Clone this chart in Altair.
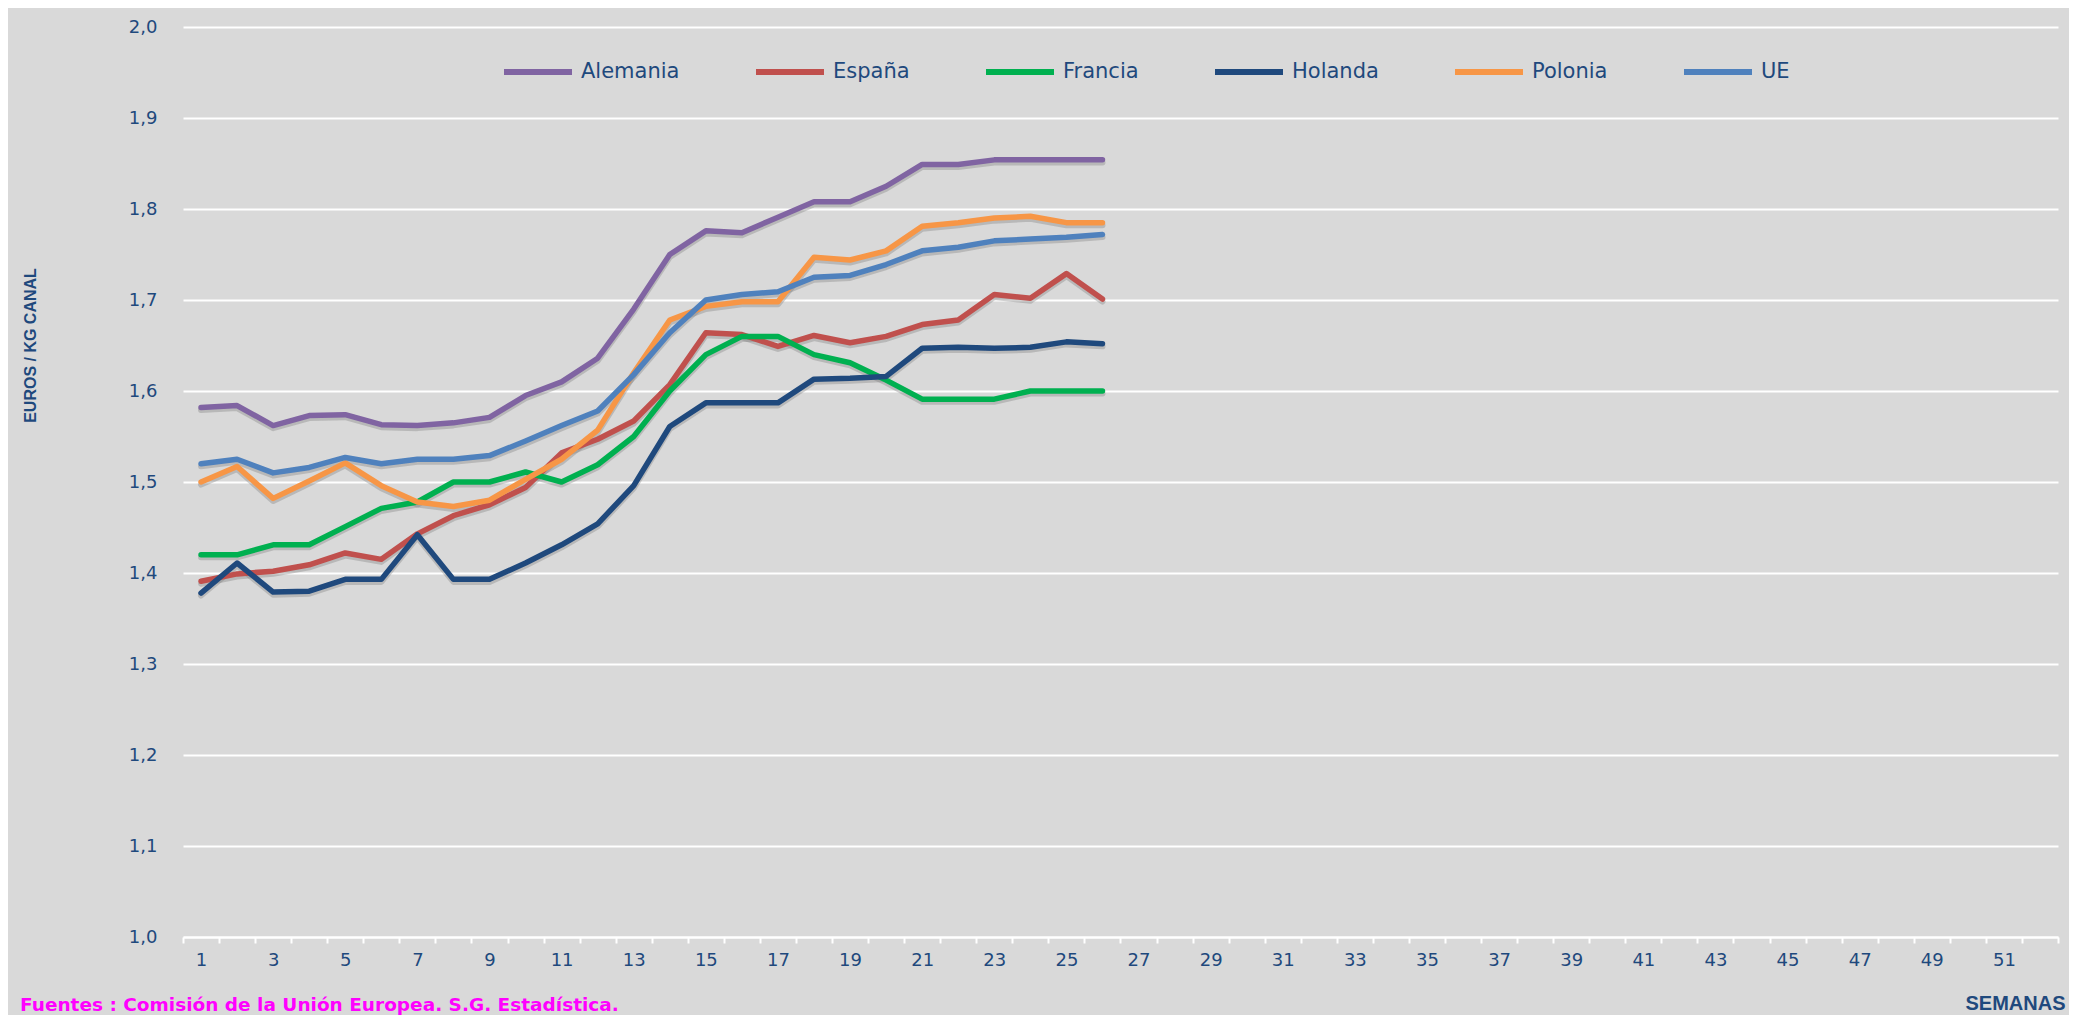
import altair as alt
import pandas as pd

# ---- data ----
weeks_axis = list(range(1, 53))          # category labels on the x axis (1..52)
weeks_data = list(range(1, 27))          # weeks with data

series_names = ["Alemania", "España", "Francia", "Holanda", "Polonia", "UE"]
series_colors = ["#8064A2", "#C0504D", "#00B050", "#1F497D", "#F79646", "#4F81BD"]

alemania = [1.582, 1.584, 1.562, 1.573, 1.574, 1.563, 1.562, 1.565, 1.571, 1.595, 1.610, 1.636, 1.690,
            1.750, 1.776, 1.774, 1.791, 1.808, 1.808, 1.825, 1.849, 1.849, 1.854, 1.854, 1.854, 1.854]
espana = [1.391, 1.399, 1.402, 1.409, 1.422, 1.415, 1.443, 1.463, 1.475, 1.494, 1.532, 1.547, 1.567,
          1.607, 1.664, 1.662, 1.649, 1.661, 1.653, 1.660, 1.673, 1.678, 1.706, 1.702, 1.729, 1.701]
francia = [1.420, 1.420, 1.431, 1.431, 1.451, 1.471, 1.478, 1.500, 1.500, 1.511, 1.500, 1.519, 1.550,
           1.600, 1.640, 1.660, 1.660, 1.640, 1.631, 1.612, 1.591, 1.591, 1.591, 1.600, 1.600, 1.600]
holanda = [1.378, 1.411, 1.379, 1.380, 1.393, 1.393, 1.442, 1.393, 1.393, 1.411, 1.431, 1.454, 1.496,
           1.561, 1.587, 1.587, 1.587, 1.613, 1.614, 1.616, 1.647, 1.648, 1.647, 1.648, 1.654, 1.652]
polonia = [1.500, 1.517, 1.482, 1.501, 1.521, 1.496, 1.478, 1.473, 1.480, 1.503, 1.525, 1.557, 1.620,
           1.678, 1.693, 1.698, 1.698, 1.747, 1.744, 1.754, 1.781, 1.785, 1.790, 1.792, 1.785, 1.785]
ue = [1.520, 1.525, 1.510, 1.516, 1.527, 1.520, 1.525, 1.525, 1.529, 1.545, 1.562, 1.578, 1.618,
      1.664, 1.700, 1.706, 1.709, 1.725, 1.727, 1.739, 1.754, 1.758, 1.765, 1.767, 1.769, 1.772]

y_ticks = [1.0, 1.1, 1.2, 1.3, 1.4, 1.5, 1.6, 1.7, 1.8, 1.9, 2.0]

y_title = "EUROS / KG CANAL"
x_title = "SEMANAS"
source_text = "Fuentes : Comisión de la Unión Europea. S.G. Estadística."

# ---- build long table ----
all_values = [alemania, espana, francia, holanda, polonia, ue]
rows = []
for name, vals in zip(series_names, all_values):
    for w, v in zip(weeks_data, vals):
        rows.append({"week": w, "value": v, "serie": name})
df = pd.DataFrame(rows)

BLUE_TXT = "#1F497D"
BG = "#D9D9D9"

x_scale = alt.Scale(domain=weeks_axis, type="band", paddingInner=0, paddingOuter=0)
x_axis = alt.Axis(
    title=x_title,
    labelExpr="datum.value % 2 == 1 ? datum.label : ''",
    labelAngle=0,
    labelFont="DejaVu Sans",
    labelFontSize=18,
    labelColor=BLUE_TXT,
    labelPadding=8,
    tickBand="extent",
    ticks=True,
    tickColor="white",
    tickSize=6,
    tickWidth=2,
    domain=True,
    domainColor="white",
    domainWidth=2,
    grid=False,
    titleFont="Liberation Sans",
    titleFontWeight="bold",
    titleFontSize=20,
    titleColor=BLUE_TXT,
    titleX=1832,
    titleY=66,
    titleAlign="center",
    titleBaseline="middle",
)

y_scale = alt.Scale(domain=[1.0, 2.0], nice=False, zero=False)
y_axis = alt.Axis(
    title=y_title,
    values=y_ticks,
    labelExpr="replace(format(datum.value, '.1f'), '.', ',')",
    labelFont="DejaVu Sans",
    labelFontSize=18,
    labelColor=BLUE_TXT,
    labelPadding=26,
    ticks=False,
    domain=False,
    grid=True,
    gridColor="white",
    gridWidth=2,
    titleFont="Liberation Sans",
    titleFontWeight="bold",
    titleFontSize=16,
    titleColor=BLUE_TXT,
    titleAngle=270,
    titleX=-153,
    titleY=318,
    titleAlign="center",
    titleBaseline="middle",
)

color_enc = alt.Color(
    "serie:N",
    scale=alt.Scale(domain=series_names, range=series_colors),
    sort=series_names,
    legend=alt.Legend(
        title=None,
        orient="none",
        legendX=318,
        legendY=8,
        direction="horizontal",
        columns=6,
        columnPadding=64,
        symbolType="stroke",
        symbolSize=4624,
        symbolStrokeWidth=6,
        labelFont="DejaVu Sans",
        labelFontSize=21,
        labelColor=BLUE_TXT,
        labelOffset=6,
        padding=0,
    ),
)

base = alt.Chart(df)

shadow = base.transform_calculate(
    shadow_value="datum.value - 0.0028"
).mark_line(
    strokeWidth=6, color="#7a7a7a", opacity=0.35, strokeJoin="round", strokeCap="round"
).encode(
    x=alt.X("week:O", bandPosition=0.5, scale=x_scale, axis=x_axis),
    y=alt.Y("shadow_value:Q", scale=y_scale, axis=y_axis),
    detail="serie:N",
)

lines = base.mark_line(strokeWidth=5.5, strokeJoin="round", strokeCap="round").encode(
    x=alt.X("week:O", bandPosition=0.5, scale=x_scale, axis=x_axis),
    y=alt.Y("value:Q", scale=y_scale, axis=y_axis),
    color=color_enc,
    order=alt.Order("week:O"),
)

source = alt.Chart(alt.Data(values=[{"t": source_text}])).mark_text(
    align="left",
    baseline="middle",
    font="DejaVu Sans",
    fontWeight="bold",
    fontSize=18.5,
    color="#FF00FF",
).encode(
    x=alt.value(-163),
    y=alt.value(978),
    text="t:N",
)

chart = alt.layer(shadow, lines, source).properties(
    width=1875,
    height=910,
    autosize=alt.AutoSizeParams(type="none"),
    padding={"left": 175, "top": 19, "right": 11, "bottom": 78},
    background=BG,
).configure_view(stroke=None, fill=BG)

chart.save("out.html", embed_options={"renderer": "svg", "actions": False})
